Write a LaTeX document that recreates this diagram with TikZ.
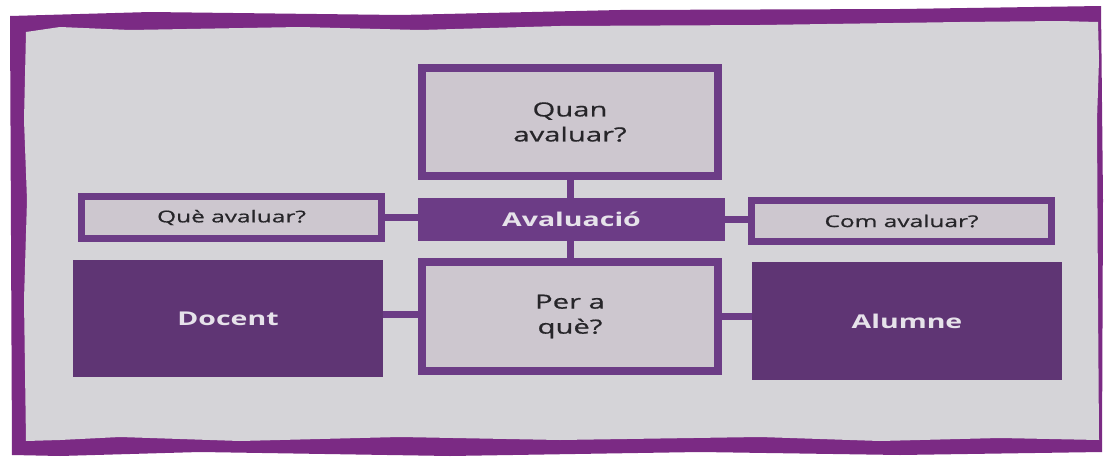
\documentclass[tikz,border=0pt]{standalone}
\usepackage{fontspec}
\setmainfont{Open Sans}[FakeStretch=1.5]
\newfontfamily\medfont{Open Sans}[FakeStretch=1.5, FakeBold=0.7]
\definecolor{framepurple}{HTML}{7B2A84}
\definecolor{boxpurple}{HTML}{6C3C86}
\definecolor{darkpurple}{HTML}{5F3574}
\definecolor{paper}{HTML}{D5D4D8}
\definecolor{boxfill}{HTML}{CDC7CF}
\definecolor{textdark}{HTML}{262529}
\definecolor{textlight}{HTML}{E6E2EA}
\tikzset{
  qbox/.style={draw=boxpurple, line width=8pt, fill=boxfill, inner sep=0pt, text=textdark, align=center},
  sbox/.style={draw=boxpurple, line width=7pt, fill=boxfill, inner sep=0pt, text=textdark, align=center},
  fbox/.style={fill=boxpurple, inner sep=0pt, outer sep=0pt, text=textlight, align=center},
  dbox/.style={fill=darkpurple, inner sep=0pt, outer sep=0pt, text=textlight, align=center},
  link/.style={draw=boxpurple, line width=7pt},
  bigtext/.style={font=\medfont\fontsize{19.5}{25}\selectfont},
  smalltext/.style={font=\medfont\fontsize{16.3}{20}\selectfont},
  boldtext/.style={font=\fontsize{19}{20}\selectfont\bfseries},
}
\begin{document}
\begin{tikzpicture}[x=1pt,y=-1pt]
\useasboundingbox (0,0) rectangle (1104,458);
\fill[white] (0,0) rectangle (1104,458);
% frame
\fill[framepurple] (10,16) -- (150,12) -- (400,15) -- (620,10) -- (900,9) -- (1101,6) -- (1103,200) -- (1102,452)
  -- (900,455) -- (700,452) -- (450,456) -- (200,452) -- (60,456) -- (12,455) -- cycle;
\fill[paper] (26,32) -- (60,27) -- (130,30) -- (300,27) -- (420,30) -- (560,26) -- (760,25) -- (960,22) -- (1060,21) -- (1098,22)
  -- (1099,60) -- (1097,120) -- (1098,300) -- (1099,440) -- (1000,438) -- (880,441) -- (760,437) -- (560,440) -- (400,437)
  -- (240,441) -- (120,437) -- (60,440) -- (26,441) -- (24,300) -- (27,200) -- (24,120) -- cycle;
% boxes
\node[qbox, bigtext, minimum width=296pt, minimum height=108pt] (quan) at (570,122) {Quan\\avaluar?};
\node[fbox, boldtext, minimum width=307pt, minimum height=43pt] (aval) at (571.5,219.5) {Avaluació};
\node[qbox, bigtext, minimum width=296pt, minimum height=109pt] (per) at (570,316.5) {Per a\\què?};
\node[sbox, smalltext, minimum width=300pt, minimum height=42pt] (que) at (231.5,217.5) {Què avaluar?};
\node[sbox, smalltext, minimum width=300pt, minimum height=41pt] (com) at (901.5,221) {Com avaluar?};
\node[dbox, boldtext, minimum width=310pt, minimum height=117pt] (doc) at (228,318.5) {Docent};
\node[dbox, boldtext, minimum width=310pt, minimum height=118pt] (alu) at (907,321) {Alumne};
% connectors
\draw[link] (quan.south) -- (quan.south |- aval.north);
\draw[link] (aval.south -| per.north) -- (per.north);
\draw[link] (que.east) -- (que.east -| aval.west);
\draw[link] (aval.east) -- (com.west |- aval.east);
\draw[link] ([yshift=2pt]per.west) -- ([yshift=2pt]per.west -| doc.east);
\draw[link] (per.east) -- (per.east -| alu.west);
\end{tikzpicture}
\end{document}
